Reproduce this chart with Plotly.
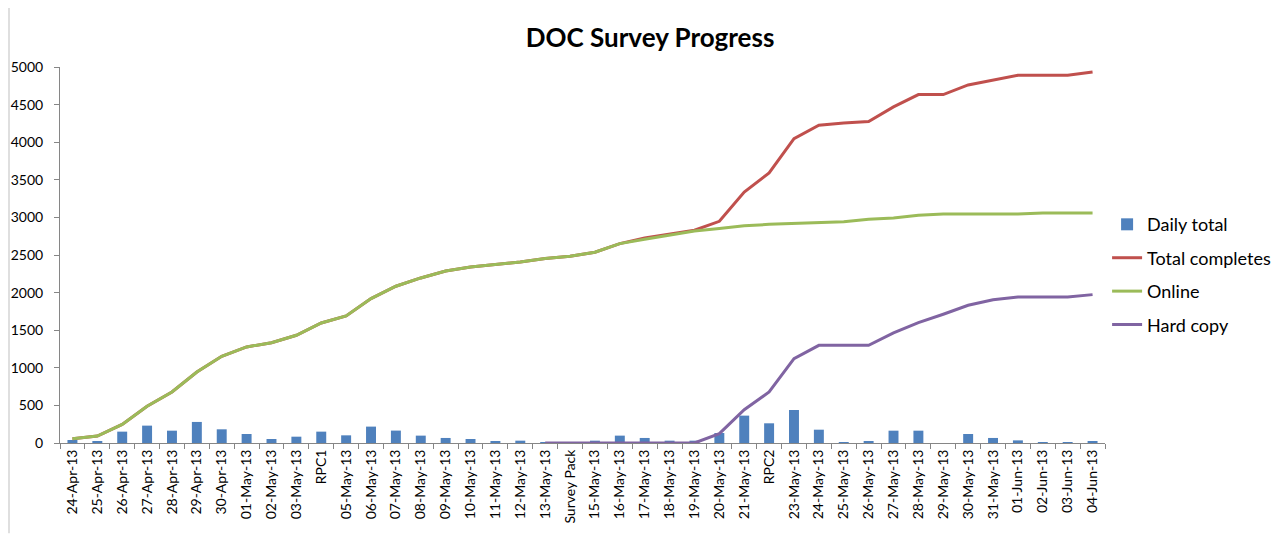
import plotly.graph_objects as go

categories = [
    "24-Apr-13", "25-Apr-13", "26-Apr-13", "27-Apr-13", "28-Apr-13", "29-Apr-13", "30-Apr-13",
    "01-May-13", "02-May-13", "03-May-13", "RPC1", "05-May-13", "06-May-13", "07-May-13",
    "08-May-13", "09-May-13", "10-May-13", "11-May-13", "12-May-13", "13-May-13", "Survey Pack",
    "15-May-13", "16-May-13", "17-May-13", "18-May-13", "19-May-13", "20-May-13", "21-May-13",
    "RPC2", "23-May-13", "24-May-13", "25-May-13", "26-May-13", "27-May-13", "28-May-13",
    "29-May-13", "30-May-13", "31-May-13", "01-Jun-13", "02-Jun-13", "03-Jun-13", "04-Jun-13",
]

daily_total = [
    40, 20, 151, 231, 164, 280, 182,
    120, 53, 84, 151, 102, 218, 165,
    98, 67, 53, 18, 31, 12, 5,
    31, 98, 67, 31, 31, 133, 364,
    262, 439, 177, 5, 18, 164, 164,
    0, 120, 67, 35, 5, 5, 18,
]

online = [
    58, 93, 248, 488, 678, 944, 1153,
    1277, 1334, 1432, 1596, 1689, 1920, 2085,
    2195, 2288, 2341, 2372, 2407, 2452, 2483,
    2536, 2651, 2709, 2762, 2820, 2851, 2888,
    2908, 2917, 2930, 2943, 2975, 2992, 3028,
    3045, 3045, 3045, 3045, 3059, 3059, 3059,
]

total_completes = [
    58, 93, 248, 488, 678, 944, 1153,
    1277, 1334, 1432, 1596, 1689, 1920, 2085,
    2195, 2288, 2341, 2372, 2407, 2452, 2483,
    2536, 2651, 2727, 2775, 2829, 2948, 3338,
    3591, 4047, 4225, 4256, 4274, 4469, 4633,
    4633, 4761, 4823, 4890, 4890, 4890, 4934,
]

hard_copy = [
    None, None, None, None, None, None, None,
    None, None, None, None, None, None, None,
    None, None, None, None, None, 0, 0,
    0, 0, 0, 0, 0, 124, 443,
    678, 1122, 1299, 1299, 1299, 1463, 1601,
    1712, 1831, 1906, 1942, 1942, 1942, 1973,
]

y_ticks = [0, 500, 1000, 1500, 2000, 2500, 3000, 3500, 4000, 4500, 5000]

FONT = "Lato, 'Open Sans', sans-serif"
AXIS_COLOR = "#868686"

fig = go.Figure()
fig.add_trace(go.Bar(
    x=categories, y=daily_total, name="Daily total",
    marker=dict(color="#4F81BD", line=dict(width=0)), legendgroup="a",
))
fig.add_trace(go.Scatter(
    x=categories, y=total_completes, name="Total completes", mode="lines",
    line=dict(color="#C0504D", width=3), legendgroup="b",
))
fig.add_trace(go.Scatter(
    x=categories, y=online, name="Online", mode="lines",
    line=dict(color="#9BBB59", width=3), legendgroup="c",
))
fig.add_trace(go.Scatter(
    x=categories, y=hard_copy, name="Hard copy", mode="lines",
    line=dict(color="#8064A2", width=3), legendgroup="d",
))

fig.update_layout(
    width=1288, height=537,
    margin=dict(l=52, r=191, t=59, b=102, autoexpand=False),
    paper_bgcolor="white", plot_bgcolor="white",
    font=dict(family=FONT, size=14, color="black"),
    bargap=0.6,
    title=dict(
        text="<b>DOC Survey Progress</b>",
        x=642 / 1288, xanchor="center", xref="container",
        y=1 - 30 / 537, yanchor="middle", yref="container",
        font=dict(family=FONT, size=26, color="black"),
    ),
    legend=dict(
        x=1.002, xanchor="left", y=0.63, yanchor="top",
        font=dict(family=FONT, size=18, color="black"),
        tracegroupgap=7, traceorder="grouped",
        bgcolor="rgba(0,0,0,0)",
    ),
    showlegend=True,
)

fig.update_xaxes(
    type="category", categoryorder="array", categoryarray=categories,
    tickangle=-90, showgrid=False, showline=True, linecolor=AXIS_COLOR, linewidth=1,
    ticks="outside", ticklen=5, tickcolor=AXIS_COLOR, tickson="boundaries",
    tickfont=dict(family=FONT, size=14, color="black"), automargin=False,
    range=[-0.5, len(categories) - 0.5], zeroline=False,
)
fig.update_yaxes(
    range=[0, 5000], tickvals=y_ticks, ticktext=[str(v) for v in y_ticks],
    showgrid=False, showline=True, linecolor=AXIS_COLOR, linewidth=1,
    ticks="outside", ticklen=5, tickcolor=AXIS_COLOR, automargin=False,
    ticklabelstandoff=8,
    tickfont=dict(family=FONT, size=14, color="black"), zeroline=False,
)

fig.add_shape(
    type="line", xref="paper", yref="paper",
    x0=-51 / 1045, x1=-51 / 1045, y0=-94 / 376 + 0.01, y1=1 + 67 / 376,
    line=dict(color="#BFBFBF", width=1),
)

fig.write_html("out.html")
